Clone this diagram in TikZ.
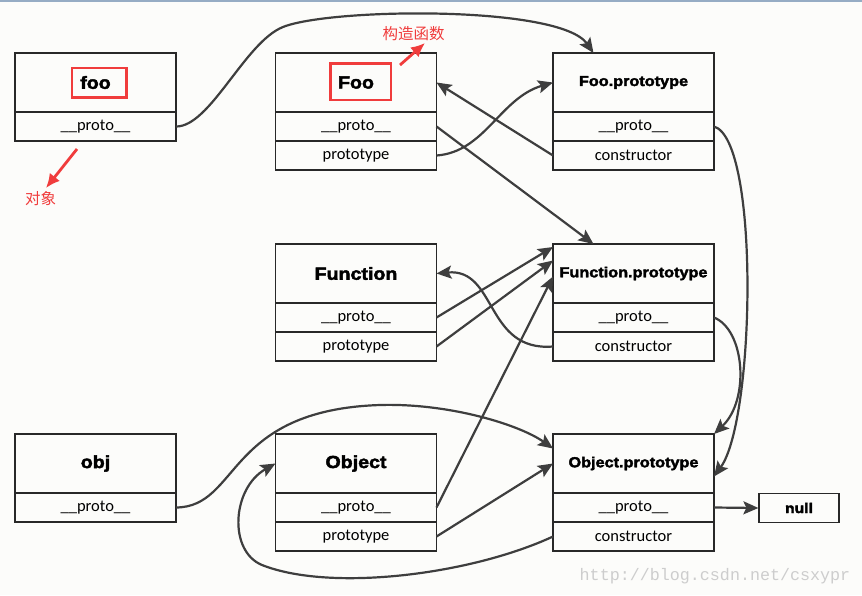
\documentclass[tikz,border=0pt]{standalone}
\usepackage{fontspec}
\setmainfont{Liberation Sans}
\newfontfamily\titlefont{Liberation Sans}[FakeStretch=1.12,BoldFeatures={FakeBold=2.5}]
\newfontfamily\fieldfont{Carlito}
\newfontfamily\cjkfont{Noto Sans CJK SC}
\newfontfamily\markfont{Liberation Mono}
\usetikzlibrary{positioning,arrows.meta}
\definecolor{boxline}{RGB}{40,40,40}
\definecolor{linkcol}{RGB}{62,62,62}
\definecolor{notered}{RGB}{240,60,60}
\definecolor{paper}{RGB}{252,252,250}
\definecolor{topbar}{RGB}{150,172,196}
\definecolor{markgray}{RGB}{205,205,205}
\begin{document}
\begin{tikzpicture}[x=1pt,y=-1pt,
  title node/.style={draw=boxline,line width=1.2pt,minimum width=161pt,minimum height=59pt,inner sep=0pt,outer sep=0pt,font=\titlefont\bfseries\fontsize{17.5}{20}\selectfont},
  proto node/.style={title node,font=\titlefont\bfseries\fontsize{14.5}{17}\selectfont},
  field node/.style={draw=boxline,line width=1.2pt,minimum width=161pt,minimum height=29pt,inner sep=0pt,outer sep=0pt,font=\fieldfont\fontsize{16.5}{19}\selectfont},
  link/.style={draw=linkcol,line width=2.2pt,-{Stealth[length=15pt,width=13pt,inset=3pt]}},
  note/.style={text=notered,font=\cjkfont\fontsize{15.5}{18}\selectfont},
  note arrow/.style={draw=notered,line width=2.8pt,-{Latex[length=14pt,width=13pt]}},
  note box/.style={draw=notered,line width=2.6pt}]
\fill[paper] (0,0) rectangle (862,595);
\useasboundingbox (0,0) rectangle (862,595);
\draw[topbar,line width=1.6pt] (0,0.8) -- (862,0.8);
\begin{scope}
\node[title node] (foo) at (95.5,82.5) {foo};
\node[field node,below=0pt of foo] (foo-proto) {\_\_proto\_\_};
\node[title node] (Foo) at (356,82.5) {Foo};
\node[field node,below=0pt of Foo] (Foo-proto) {\_\_proto\_\_};
\node[field node,below=0pt of Foo-proto] (Foo-prototype) {prototype};
\node[proto node] (Foop) at (633.5,82.5) {Foo.prototype};
\node[field node,below=0pt of Foop] (Foop-proto) {\_\_proto\_\_};
\node[field node,below=0pt of Foop-proto] (Foop-ctor) {constructor};
\node[title node] (Fn) at (356,273.5) {Function};
\node[field node,below=0pt of Fn] (Fn-proto) {\_\_proto\_\_};
\node[field node,below=0pt of Fn-proto] (Fn-prototype) {prototype};
\node[proto node] (Fnp) at (633.5,273.5) {Function.prototype};
\node[field node,below=0pt of Fnp] (Fnp-proto) {\_\_proto\_\_};
\node[field node,below=0pt of Fnp-proto] (Fnp-ctor) {constructor};
\node[title node] (obj) at (95.5,463.5) {obj};
\node[field node,below=0pt of obj] (obj-proto) {\_\_proto\_\_};
\node[title node] (Obj) at (356,463.5) {Object};
\node[field node,below=0pt of Obj] (Obj-proto) {\_\_proto\_\_};
\node[field node,below=0pt of Obj-proto] (Obj-prototype) {prototype};
\node[proto node] (Objp) at (633.5,463.5) {Object.prototype};
\node[field node,below=0pt of Objp] (Objp-proto) {\_\_proto\_\_};
\node[field node,below=0pt of Objp-proto] (Objp-ctor) {constructor};
\node[draw=boxline,line width=1.2pt,minimum width=80pt,minimum height=28.5pt,inner sep=0pt,font=\titlefont\bfseries\fontsize{14}{16}\selectfont] (null) at (799,508) {null};
\end{scope}
\begin{scope}
% foo chain
\draw[link] (foo-proto.east) .. controls (210,127) and (245,42) .. (283,27) .. controls (330,8) and (560,5) .. ([xshift=-40pt]Foop.north);
\draw[link] (Foo-prototype.east) .. controls (485,152) and (500,98) .. (Foop.west);
\draw (Foop-ctor.west) edge[link] (Foo.east);
\draw (Foo-proto.east) edge[link] ([xshift=-40pt]Fnp.north);
\draw[link] (Foop-proto.east) .. controls (760,140) and (755,420) .. ([yshift=-13pt]Objp.east);
% Function
\draw (Fn-proto.east) edge[link] ([yshift=-3pt]Fnp.north west);
\draw (Fn-prototype.east) edge[link] ([yshift=13pt]Fnp.west);
\draw[link] (Fnp-ctor.west) .. controls (485,352) and (497,268) .. (Fn.east);
\draw[link] (Fnp-proto.east) .. controls (745,330) and (750,400) .. (Objp.north east);
% Object
\draw (Obj-proto.east) edge[link] ([yshift=-3pt]Fnp.west);
\draw (Obj-prototype.east) edge[link] (Objp.west);
\draw[link] (obj-proto.east) .. controls (240,507) and (225,410) .. (380,405) .. controls (450,403) and (520,425) .. ([yshift=15pt]Objp.west);
\draw[link] (Objp-ctor.west) .. controls (470,575) and (330,592) .. (262,565) .. controls (228,551) and (232,488) .. (Obj.west);
\draw (Objp-proto.east) edge[link] (null.west);
\end{scope}
% notes
\draw[note box] (72,68) rectangle (126.7,97.3);
\draw[note box] (330.3,63.3) rectangle (391,100);
\node[note] (ctor-note) at (413.5,34) {构造函数};
\node[note] (obj-note) at (40.7,199) {对象};
\coordinate (ctor-tail) at (400,65);
\coordinate (ctor-tip) at (425,43);
\coordinate (obj-tail) at (77,149);
\coordinate (obj-tip) at (46,188);
\draw[note arrow] (ctor-tail) -- (ctor-tip);
\draw[note arrow] (obj-tail) -- (obj-tip);
\node[text=markgray,font=\markfont\fontsize{16.7}{18}\selectfont] (mark) at (715,576) {http://blog.csdn.net/csxypr};
\end{tikzpicture}
\end{document}
